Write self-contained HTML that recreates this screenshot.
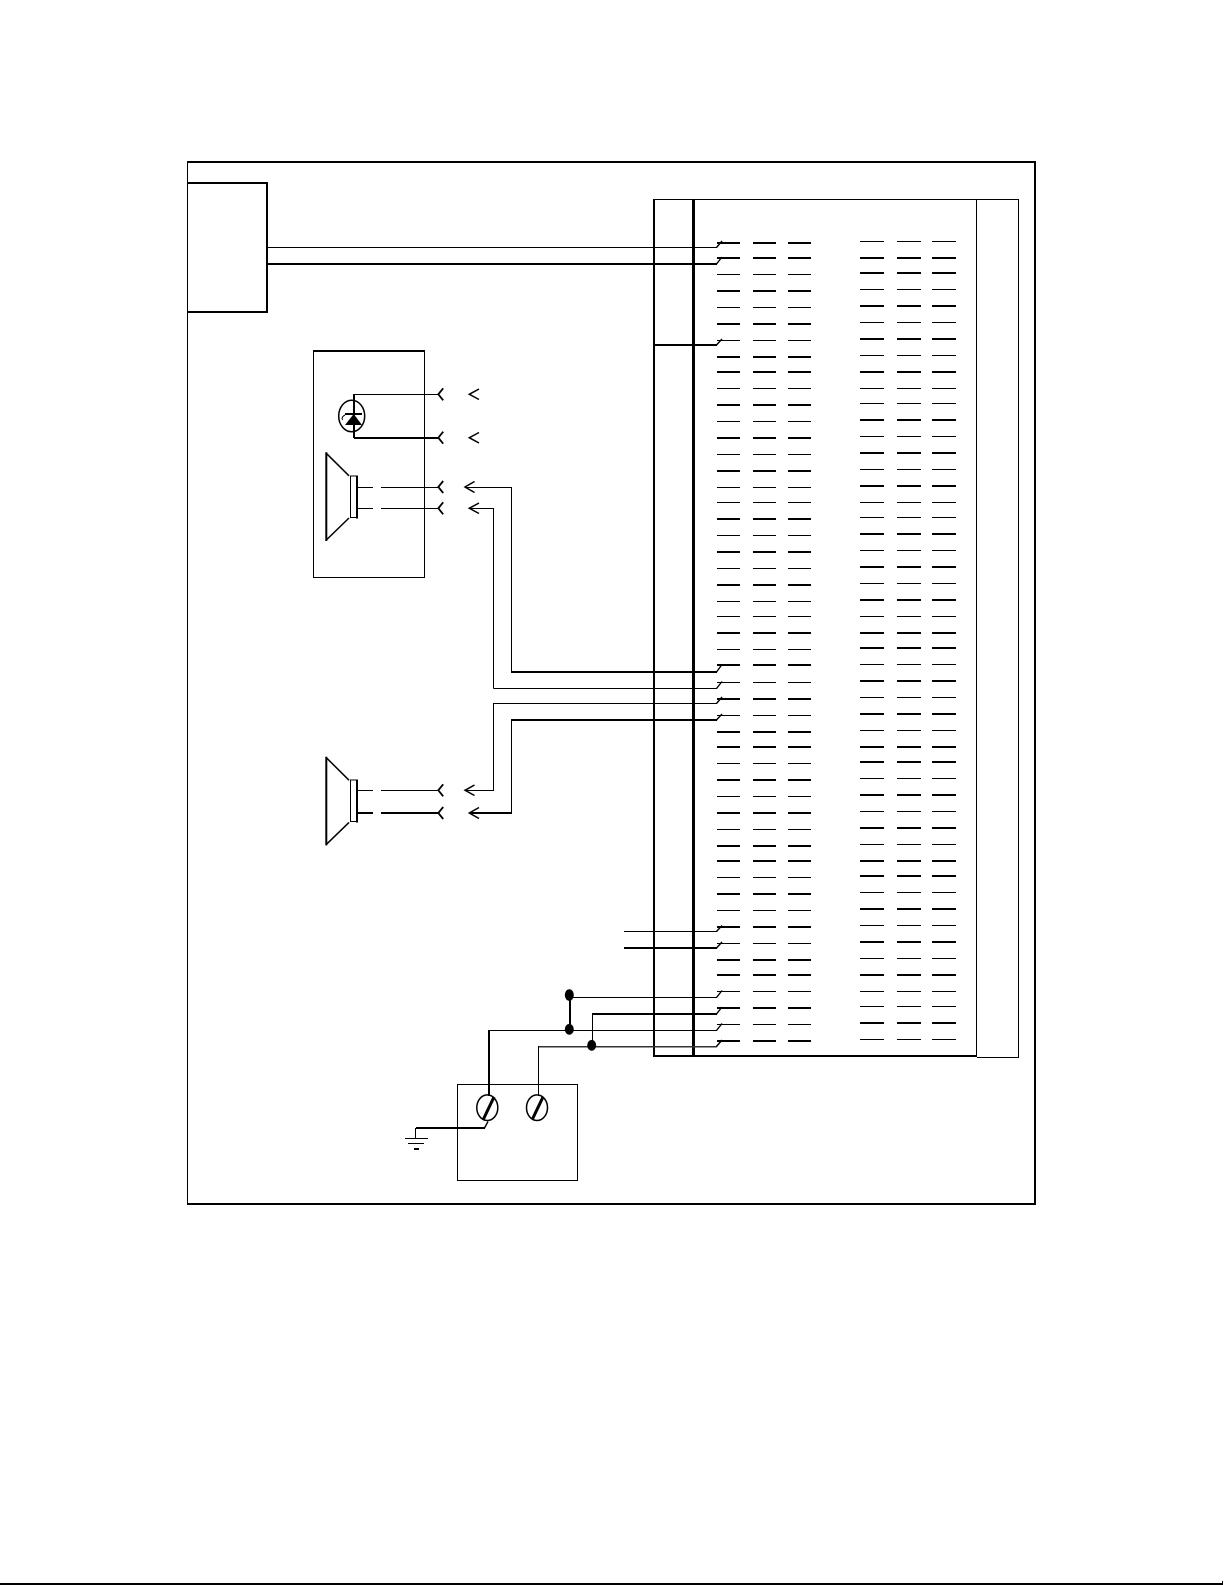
<!DOCTYPE html>
<html>
<head>
<meta charset="utf-8">
<title>Wiring diagram</title>
<style>
html,body{margin:0;padding:0;background:#fff;width:1225px;height:1585px;overflow:hidden}
svg{display:block}
.c{shape-rendering:crispEdges}
</style>
</head>
<body>
<svg xmlns="http://www.w3.org/2000/svg" width="1225" height="1585" viewBox="0 0 1225 1585" fill="none" stroke="#000" stroke-linecap="butt">
<rect width="1225" height="1585" fill="#fff" stroke="none"/>
<defs>
<path id="lk" stroke-width="2" class="c" d="M717 243h23M717 258h23M717 291h23M717 324h23M717 357h23M717 372h23M717 405h23M717 438h23M717 471h23M717 519h23M717 552h23M717 585h23M717 633h23M717 665h23M717 699h23M717 732h23M717 747h23M717 780h23M717 813h23M717 846h23M717 861h23M717 894h23M717 927h23M717 960h23M717 975h23M717 1008h23M717 1041h23"/>
<path id="ln" stroke-width="1" class="c" d="M717 274.500h23M717 307.500h23M717 340.500h23M717 388.500h23M717 421.500h23M717 454.500h23M717 487.500h23M717 502.500h23M717 535.500h23M717 568.500h23M717 601.500h23M717 616.500h23M717 649.500h23M717 682.500h23M717 715.500h23M717 763.500h23M717 796.500h23M717 829.500h23M717 877.500h23M717 910.500h23M717 943.500h23M717 991.500h23M717 1024.500h23"/>
<path id="rk" stroke-width="2" class="c" d="M860 258h24M860 273h24M860 306h24M860 339h24M860 372h24M860 420h24M860 453h24M860 486h24M860 534h24M860 567h24M860 600h24M860 633h24M860 648h24M860 681h24M860 714h24M860 747h24M860 762h24M860 795h24M860 828h24M860 861h24M860 876h24M860 909h24M860 942h24M860 975h24M860 1023h24"/>
<path id="rn" stroke-width="1" class="c" d="M860 241.500h24M860 289.500h24M860 322.500h24M860 355.500h24M860 388.500h24M860 403.500h24M860 436.500h24M860 469.500h24M860 502.500h24M860 517.500h24M860 550.500h24M860 583.500h24M860 616.500h24M860 664.500h24M860 697.500h24M860 730.500h24M860 778.500h24M860 811.500h24M860 844.500h24M860 892.500h24M860 925.500h24M860 958.500h24M860 991.500h24M860 1006.500h24M860 1039.500h24"/>
<g id="sock"><path stroke-width="1.800" d="M443.200 -6L438.300 0L443.200 6"/></g>
<g id="spk">
<path stroke-width="2" d="M326.300 -1V87.700"/>
<path stroke-width="1.500" d="M325.800 -0.500L349 22.500M325.800 87.200L349 64.700"/>
<path class="c" stroke-width="1" d="M350.500 22.500H357.500V64H350.500Z"/>
<path class="c" stroke-width="2" d="M357 22V65"/>
</g>
</defs>

<!-- outer frame -->
<path class="c" stroke-width="2" d="M187 162H1036"/>
<path class="c" stroke-width="1" d="M187.500 161V1204"/>
<path class="c" stroke-width="2" d="M1035 161V1205"/>
<path class="c" stroke-width="2" d="M187 1204H1036"/>

<!-- top-left block -->
<path class="c" stroke-width="2" d="M187 183H267M187 312H267"/>
<path class="c" stroke-width="2" d="M267 182V313"/>

<!-- terminal strip -->
<path class="c" stroke-width="2" d="M654 199V1057"/>
<path class="c" stroke-width="3" d="M693.500 199V1057"/>
<path class="c" stroke-width="1" d="M654 199.500H1018.500"/>
<path class="c" stroke-width="1" d="M976.500 199V1056M1018.500 199V1058M977 1057.500H1019"/>
<path class="c" stroke-width="2" d="M654 1056H977"/>

<!-- terminal dash rows -->
<use href="#lk"/><use href="#ln"/>
<use href="#lk" x="36"/><use href="#ln" x="36"/>
<use href="#lk" x="71"/><use href="#ln" x="71"/>
<use href="#rk"/><use href="#rn"/>
<use href="#rk" x="37"/><use href="#rn" x="37"/>
<use href="#rk" x="72"/><use href="#rn" x="72"/>

<!-- horizontal wires into strip -->
<g class="c">
<path stroke-width="1" d="M267 247.500H717M493.500 688.500H717M493.500 703.500H717M624 931.500H717M569 997.500H717M489 1030.500H717"/>
<path stroke-width="2" d="M267 264H717M654 345H717M511 672H717M511 720H717M624 948H717M592 1014H717"/>
<path stroke-width="1.500" stroke="#333" d="M538 1046.500H717"/>
</g>
<!-- switch ticks -->
<path stroke-width="1.400" d="M716.500 247.500L722 241M716.500 264L722 257M716.500 345L722 339M716.500 672L722 664.500M716.500 688.500L722 681.500M716.500 703.500L722 697M716.500 720L722 714M716.500 931.500L722 925.500M716.500 948L722 942M716.500 997.500L722 990.500M716.500 1014L722 1007M716.500 1030.500L722 1023.500M716.500 1046.500L722 1040"/>

<!-- module box -->
<path class="c" stroke-width="2" d="M313 351H425"/>
<path class="c" stroke-width="1" d="M313.500 350V577.500H424.500V350"/>

<!-- LED -->
<ellipse cx="351.700" cy="416" rx="13" ry="15.700" stroke-width="1.500"/>
<path class="c" stroke-width="1" d="M354 394.500H438"/>
<path class="c" stroke-width="2" d="M354 394V438M354 438H438"/>
<path fill="#000" stroke="none" d="M345 425H362L353.700 414Z"/>
<path class="c" stroke-width="2" d="M345 414H362"/>
<path stroke-width="1" d="M345 415Q341 417 342.500 420"/>

<!-- sockets -->
<use href="#sock" y="394.300"/>
<use href="#sock" y="437.700"/>
<use href="#sock" y="487"/>
<use href="#sock" y="508.300"/>
<use href="#sock" y="790.300"/>
<use href="#sock" y="813"/>

<!-- plugs -->
<path stroke-width="1.500" d="M479 389L469.300 394.300L479 399.500M479 432.500L469.300 437.700L479 443M474.500 481.500L465 487L474.500 492.500M479 503L469.300 508.300L479 513.500M474.500 785L465 790.300L474.500 795.500M479 807.500L469.300 813L479 818.500"/>

<!-- speakers -->
<use href="#spk" y="453.300"/>
<use href="#spk" y="757.700"/>
<path class="c" stroke-width="1" d="M357 487.500H373M381 487.500H438M357 508.500H373M381 508.500H438M357 790.500H373M381 790.500H438"/>
<path class="c" stroke-width="2" d="M357 813H373M381 813H438"/>

<!-- speaker wires -->
<path class="c" stroke-width="1" d="M465 487.500H511.500V672M469 508.500H493.500V688.500M493.500 703V790.500H465"/>
<path class="c" stroke-width="1" d="M511.500 720V813"/>
<path class="c" stroke-width="2" d="M470 813H512"/>

<!-- junctions -->
<ellipse cx="569.300" cy="995" rx="4.500" ry="5.800" fill="#000" stroke="none"/>
<ellipse cx="569.300" cy="1029.300" rx="4.500" ry="5.400" fill="#000" stroke="none"/>
<ellipse cx="591.700" cy="1045.300" rx="4.500" ry="5.400" fill="#000" stroke="none"/>
<path class="c" stroke-width="2" d="M570 995V1029"/>
<path class="c" stroke-width="1" d="M592.500 1014V1045M538.500 1046V1096"/>
<path class="c" stroke-width="2" d="M489 1030V1096"/>

<!-- terminal box -->
<path class="c" stroke-width="1" d="M457.500 1084.500H577.500V1180.500H457.500Z"/>
<ellipse cx="487.300" cy="1107.700" rx="10.500" ry="12.800" stroke-width="1.500"/>
<ellipse cx="537" cy="1107.700" rx="10.500" ry="12.800" stroke-width="1.500"/>
<path stroke-width="3" d="M494 1097L483.500 1119M543 1097L532.500 1119"/>

<!-- ground -->
<path class="c" stroke-width="2" d="M416 1128H485"/>
<path stroke-width="1.400" d="M484.500 1128L488 1121.500"/>
<path class="c" stroke-width="1" d="M415.500 1128V1138M405 1138.500H428M408 1143.500H424"/>
<path class="c" stroke-width="2" d="M414 1149H419"/>

<!-- bottom page line -->
<path class="c" stroke-width="2" d="M0 1584H1222"/>
<path class="c" stroke-width="1" d="M1222.500 1581V1585"/>
</svg>
</body>
</html>
